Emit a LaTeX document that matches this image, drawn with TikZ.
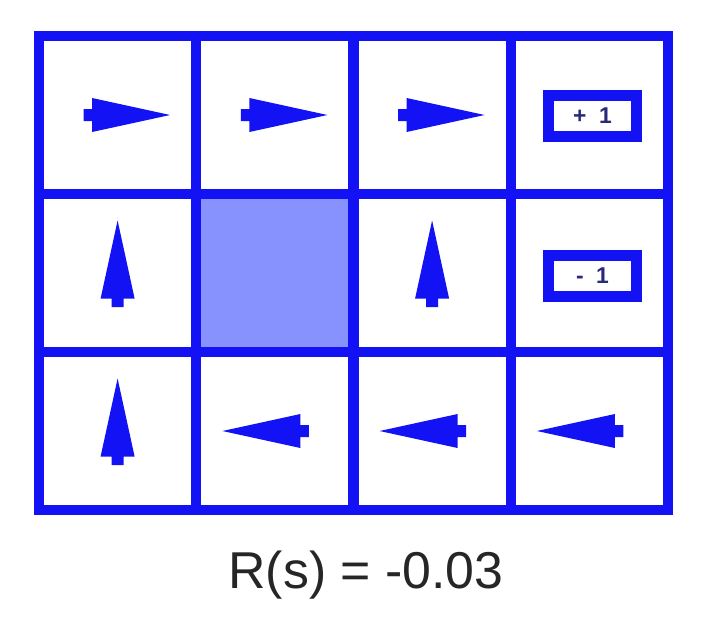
\documentclass[tikz,border=0pt]{standalone}
\usepackage{fontspec}
\setmainfont{Liberation Sans}
\definecolor{gridblue}{RGB}{18,18,245}
\definecolor{wallblue}{RGB}{136,146,255}
\definecolor{labelnavy}{RGB}{40,40,125}

\tikzset{
  cell/.style={rectangle, draw=gridblue, line width=0.2cm, minimum width=3.145cm, minimum height=3.16cm, inner sep=0pt},
  reward/.style={rectangle, draw=gridblue, fill=white, line width=0.22cm, minimum width=1.76cm, minimum height=0.82cm, inner sep=0pt, text=labelnavy, font=\bfseries\fontsize{13}{13}\selectfont},
  policy/.pic={\fill[gridblue] (52.5,0) -- (-25.5,17) -- (-25.5,6) -- (-34,6) -- (-34,-6) -- (-25.5,-6) -- (-25.5,-17) -- cycle;}
}

\begin{document}
\begin{tikzpicture}[x=0.02cm, y=0.02cm]
    \useasboundingbox (0,0) rectangle (712,630);

    % Top row
    \node[cell] (c-0-0) at (117.6,515) {};
    \node[cell] (c-0-1) at (274.9,515) {};
    \node[cell] (c-0-2) at (432.1,515) {};
    \node[cell] (c-0-3) at (589.4,515) {};

    % Middle row
    \node[cell] (c-1-0) at (117.6,357) {};
    \node[cell, fill=wallblue] (c-1-1) at (274.9,357) {};
    \node[cell] (c-1-2) at (432.1,357) {};
    \node[cell] (c-1-3) at (589.4,357) {};

    % Bottom row
    \node[cell] (c-2-0) at (117.6,199) {};
    \node[cell] (c-2-1) at (274.9,199) {};
    \node[cell] (c-2-2) at (432.1,199) {};
    \node[cell] (c-2-3) at (589.4,199) {};

    % Policy arrows
    \pic (a-0-0) at (c-0-0) {policy};
    \pic (a-0-1) at (c-0-1) {policy};
    \pic (a-0-2) at (c-0-2) {policy};
    \pic[rotate=90] (a-1-0) at (c-1-0) {policy};
    \pic[rotate=90] (a-1-2) at (c-1-2) {policy};
    \pic[rotate=90] (a-2-0) at (c-2-0) {policy};
    \pic[rotate=180] (a-2-1) at (c-2-1) {policy};
    \pic[rotate=180] (a-2-2) at (c-2-2) {policy};
    \pic[rotate=180] (a-2-3) at (c-2-3) {policy};

    % Terminal rewards
    \node[reward] (goal) at (592.5,514) {+\hspace{0.25cm}1};
    \node[reward] (pit) at (592.5,354) {-\hspace{0.25cm}1};

    % Step reward
    \node[anchor=base, text=black!85, font=\fontsize{29.5}{31}\selectfont] (stepcost) at (366,42) {R(s) = -0.03};
\end{tikzpicture}
\end{document}
